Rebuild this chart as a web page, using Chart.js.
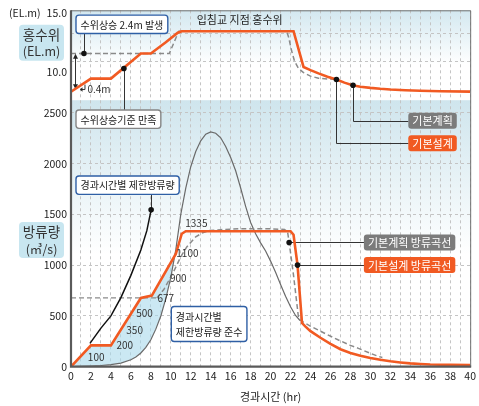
<!DOCTYPE html>
<html><head><meta charset="utf-8">
<script src="https://cdn.jsdelivr.net/npm/chart.js@4.4.1/dist/chart.umd.min.js"></script>
<style>html,body{margin:0;padding:0;background:#fff}#wrap{width:479px;height:406px}</style>
</head><body><div id="wrap"><canvas id="c" width="479" height="406"></canvas></div>
<script>
// ---------- data ----------
const xTickLabels = [0,2,4,6,8,10,12,14,16,18,20,22,24,26,28,30,32,34,36,38,40];
const levelLabelTicks = [10, 15];
const levelGrid = [10, 10.84, 13.23, 15];
const flowTicks = [0, 500, 1000, 1500, 2000, 2500];

// 기본설계 홍수위 (EL.m)
const designLevel = [[0,8.33],[2,9.44],[4,9.44],[7,11.55],[8,11.55],[9.5,12.5],[10.7,13.3],[11.1,13.43],[22.3,13.43],[23.3,10.42],[24,10.15],[24.8,9.88],[25.7,9.6],[26.6,9.36],[27.4,9.1],[28.2,8.88],[29,8.76],[30,8.66],[31,8.58],[32,8.52],[33.5,8.46],[35,8.42],[37,8.38],[40,8.34]];
// 기본계획 홍수위
const planLevel = [[0,11.55],[9.85,11.55],[10.8,13.43],[21.6,13.43],[21.8,12.95],[22.1,11.8],[22.4,10.9],[22.8,10.29],[23.3,9.95],[24,9.65],[24.8,9.47],[26.6,9.36]];
// 유입량 (gray solid)
const inflow = [[0,0],[1,3],[2,7],[3,12],[4,20],[5,35],[6,68],[6.5,95],[7,135],[7.5,190],[8,265],[8.5,370],[9,500],[9.5,670],[10,880],[10.5,1150],[11,1500],[11.5,1760],[12,1970],[12.5,2120],[13,2225],[13.5,2290],[14,2313],[14.5,2300],[15,2255],[15.5,2170],[16,2060],[16.5,1930],[17,1760],[17.5,1580],[18,1420],[18.5,1310],[19,1220],[19.5,1140],[20,1040],[20.5,930],[21,810],[21.5,695],[22,590],[22.5,505],[22.95,455]];
// 기본설계 방류곡선
const designFlow = [[0,0],[2,210],[4,210],[7,677],[8.1,700],[10.5,1110],[11.1,1310],[11.5,1335],[22,1335],[22.3,1300],[22.7,1001],[23.15,430],[23.5,395],[24,350],[25,285],[26,225],[27,172],[28,136],[29,108],[30,86],[31,68],[32,53],[33,42],[34,33],[35,27],[36,22],[38,18],[40,16]];
// 기본계획 방류곡선
const planFlowRef = [[0,677],[8.6,677]];
const planFlow = [[8.6,677],[9.3,760],[10.2,920],[11,1083],[11.6,1180],[12.5,1280],[13.2,1320],[13.8,1340],[15,1350],[17,1360],[19.5,1360],[21.4,1352],[21.7,1330],[21.86,1224],[22.3,900],[22.8,480],[23,455],[24.1,394],[25.5,325],[26.8,263],[28,210],[28.8,181],[29.8,140],[30.7,105],[31.2,90]];
// 경과시간별 제한방류량
const limitFlow = [[1.9,230],[3,380],[4,500],[5,680],[6,900],[7,1150],[7.6,1340],[8.03,1545]];
const shadeUntil = 11.5;
// markers
const levelMarkers = [[1.3,11.55],[5.3,10.29],[26.6,9.36],[28.26,8.88]];
const flowMarkers = [[8.03,1545],[21.86,1224],[22.7,1001]];
// value labels on the discharge curves
const flowLabels = [['1335',11.45,1414],['1100',10.55,1119],['900',9.92,873],['677',8.66,679],['500',6.54,529],['350',5.54,361],['200',4.55,207],['100',1.69,98]];

// ---------- helpers ----------
const FONT = '"Noto Sans CJK KR", "Noto Sans", sans-serif';
const xy = a => a.map(([x,y]) => ({x, y}));
const ORANGE = '#f15a22', GRAYF = '#7b7b7b', BLUE = '#2f5fa5';

const callouts = [
  {text:['수위상승 2.4m 발생'], t:0.5, v:14.01, axis:'yTop', kind:'blue', leader:[[1.3,11.55,'yTop'],[1.3,14.01,'yTop']]},
  {text:['수위상승기준 만족'], t:0.5, v:2438, axis:'y', kind:'gray', leader:[[5.3,10.29,'yTop'],[5.3,2438,'y']]},
  {text:['경과시간별 제한방류량'], t:0.5, v:1788, axis:'y', kind:'blue', leader:[[8.03,1545,'y'],[8.03,1788,'y']]},
  {text:['경과시간별','제한방류량 준수'], t:10.05, v:420, axis:'y', kind:'blue'},
  {text:['기본계획'], t:33.8, v:2423, axis:'y', kind:'grayFill', leader:[[28.26,8.88,'yTop'],[28.26,2423,'y'],[33.8,2423,'y']]},
  {text:['기본설계'], t:33.8, v:2202, axis:'y', kind:'orangeFill', leader:[[26.6,9.36,'yTop'],[26.6,2202,'y'],[33.8,2202,'y']]},
  {text:['기본계획 방류곡선'], t:29.35, v:1224, axis:'y', kind:'grayFill', leader:[[21.86,1224,'y'],[29.35,1224,'y']]},
  {text:['기본설계 방류곡선'], t:29.35, v:1001, axis:'y', kind:'orangeFill', leader:[[22.7,1001,'y'],[29.35,1001,'y']]}
];

function rr(ctx, x, y, w, h, r){
  ctx.beginPath();
  ctx.moveTo(x+r, y); ctx.lineTo(x+w-r, y); ctx.quadraticCurveTo(x+w, y, x+w, y+r);
  ctx.lineTo(x+w, y+h-r); ctx.quadraticCurveTo(x+w, y+h, x+w-r, y+h);
  ctx.lineTo(x+r, y+h); ctx.quadraticCurveTo(x, y+h, x, y+h-r);
  ctx.lineTo(x, y+r); ctx.quadraticCurveTo(x, y, x+r, y); ctx.closePath();
}

const deco = {
  id: 'deco',
  beforeDraw(chart){
    const {ctx, chartArea:a, scales} = chart;
    const yt = scales.yTop, yb = scales.y;
    ctx.save();
    let g = ctx.createLinearGradient(0, yt.top, 0, yt.bottom);
    g.addColorStop(0, '#d3e8f0'); g.addColorStop(0.6, '#ffffff'); g.addColorStop(1, '#ffffff');
    ctx.fillStyle = g; ctx.fillRect(a.left, yt.top, a.right - a.left, yt.bottom - yt.top);
    g = ctx.createLinearGradient(0, yb.top, 0, yb.bottom);
    g.addColorStop(0, '#cfe5ed'); g.addColorStop(0.58, '#ffffff'); g.addColorStop(1, '#ffffff');
    ctx.fillStyle = g; ctx.fillRect(a.left, yb.top, a.right - a.left, yb.bottom - yb.top);
    ctx.restore();
  },
  beforeDatasetsDraw(chart){
    const {ctx, scales} = chart;
    const px = t => scales.x.getPixelForValue(t);
    const py = (v, ax) => scales[ax].getPixelForValue(v);
    ctx.save();
    ctx.strokeStyle = '#333'; ctx.lineWidth = 1;
    callouts.forEach(c => {
      if (!c.leader) return;
      ctx.beginPath();
      c.leader.forEach(([t, v, ax], i) => {
        const X = Math.round(px(t)) + 0.5, Y = Math.round(py(v, ax)) + 0.5;
        i ? ctx.lineTo(X, Y) : ctx.moveTo(X, Y);
      });
      ctx.stroke();
    });
    // 2.4m double arrow
    const ax = Math.round(px(0.4)) + 0.5, y1 = py(11.45,'yTop'), y2 = py(8.62,'yTop');
    ctx.beginPath(); ctx.moveTo(ax, y1); ctx.lineTo(ax, y2); ctx.stroke();
    ctx.fillStyle = '#222';
    ctx.beginPath(); ctx.moveTo(ax, y1 - 1); ctx.lineTo(ax - 2.5, y1 + 4); ctx.lineTo(ax + 2.5, y1 + 4); ctx.fill();
    ctx.beginPath(); ctx.moveTo(ax, y2 + 1); ctx.lineTo(ax - 2.5, y2 - 4); ctx.lineTo(ax + 2.5, y2 - 4); ctx.fill();
    // small hook for 0.4m
    const hx = px(1.4), hy = py(8.52,'yTop');
    ctx.beginPath(); ctx.moveTo(hx, hy - 5); ctx.lineTo(hx, hy); ctx.lineTo(hx - 3, hy); ctx.stroke();
    ctx.beginPath(); ctx.moveTo(hx - 5, hy); ctx.lineTo(hx - 2.5, hy - 2.2); ctx.lineTo(hx - 2.5, hy + 2.2); ctx.fill();
    ctx.restore();
  },
  afterDatasetsDraw(chart){
    const {ctx, chartArea:a, scales} = chart;
    const px = t => scales.x.getPixelForValue(t);
    const py = (v, ax) => scales[ax].getPixelForValue(v);
    ctx.save();
    // frame
    ctx.strokeStyle = '#707070'; ctx.lineWidth = 1;
    ctx.beginPath(); ctx.moveTo(a.left, a.top + 0.5); ctx.lineTo(a.right + 0.5, a.top + 0.5); ctx.lineTo(a.right + 0.5, a.bottom); ctx.stroke();
    ctx.strokeStyle = '#5a5a5a'; ctx.lineWidth = 2.2;
    ctx.beginPath(); ctx.moveTo(a.left, a.top); ctx.lineTo(a.left, a.bottom); ctx.lineTo(a.right + 1, a.bottom); ctx.stroke();

    // value labels
    ctx.font = '10px ' + FONT; ctx.fillStyle = '#333'; ctx.textBaseline = 'middle'; ctx.textAlign = 'left';
    flowLabels.forEach(([s, t, v]) => ctx.fillText(s, px(t), py(v, 'y')));
    ctx.fillText('0.4m', px(1.65), py(8.54, 'yTop'));
    ctx.font = '11px ' + FONT; ctx.fillStyle = '#222';
    ctx.fillText('입침교 지점 홍수위', px(12.6), py(14.35, 'yTop'));

    // callout boxes
    callouts.forEach(c => {
      const filled = c.kind.endsWith('Fill');
      const fs = filled ? 11 : 10;
      ctx.font = fs + 'px ' + FONT;
      const padX = filled ? 4 : 4.5;
      const tw = Math.max(...c.text.map(s => ctx.measureText(s).width));
      const w = tw + 2 * padX;
      const h = c.text.length > 1 ? 35 : (filled ? 16 : 18.3);
      const x = px(c.t), yc = py(c.v, c.axis), top = yc - h / 2;
      rr(ctx, x, top, w, h, 3);
      if (filled) {
        ctx.fillStyle = c.kind === 'grayFill' ? GRAYF : ORANGE; ctx.fill();
        ctx.fillStyle = '#fff';
      } else {
        ctx.fillStyle = '#fff'; ctx.fill();
        ctx.lineWidth = 1.4; ctx.strokeStyle = c.kind === 'blue' ? BLUE : '#858585'; ctx.stroke();
        ctx.fillStyle = '#222';
      }
      ctx.textBaseline = 'middle'; ctx.textAlign = 'left';
      const lh = 15.5, n = c.text.length;
      c.text.forEach((s, i) => ctx.fillText(s, x + padX, yc + (i - (n - 1) / 2) * lh + 0.5));
    });

    // axis title boxes
    const yt = scales.yTop, yb = scales.y;
    const titleBox = (l1, l2, yc) => {
      rr(ctx, 19, yc - 18, 45, 36, 4);
      ctx.fillStyle = '#c8e6f0'; ctx.fill();
      ctx.fillStyle = '#333'; ctx.textAlign = 'center'; ctx.textBaseline = 'middle';
      ctx.font = '13.5px ' + FONT; ctx.fillText(l1, 41.5, yc - 8);
      ctx.font = '12.5px ' + FONT; ctx.fillText(l2, 41.5, yc + 9);
    };
    titleBox('홍수위', '(EL.m)', yt.getPixelForValue(12.46));
    titleBox('방류량', '(㎥/s)', yb.getPixelForValue(1247));
    ctx.font = '10.5px ' + FONT; ctx.fillStyle = '#222'; ctx.textAlign = 'left'; ctx.textBaseline = 'middle';
    ctx.fillText('(EL.m)', 9, yt.getPixelForValue(15));
    ctx.restore();
  }
};

const line = (data, axis, color, width, dash, order, extra) => Object.assign({
  data: xy(data), yAxisID: axis, borderColor: color, borderWidth: width, borderDash: dash || [],
  pointRadius: 0, tension: 0, fill: false, order
}, extra || {});

const chart = new Chart(document.getElementById('c'), {
  type: 'line',
  data: { datasets: [
    line(inflow.filter(p => p[0] <= shadeUntil), 'y', 'rgba(0,0,0,0)', 0, null, 9),
    line(designFlow.filter(p => p[0] <= shadeUntil), 'y', 'rgba(0,0,0,0)', 0, null, 8,
         {fill: {target: 0, above: 'rgba(168,216,235,0.6)', below: 'rgba(0,0,0,0)'}}),
    line(inflow, 'y', '#6a6a6a', 1.2, null, 6),
    line(planFlowRef, 'y', '#8a8a8a', 1.3, [5,3], 5),
    line(planFlow, 'y', '#8a8a8a', 1.5, [5,3], 5),
    line(limitFlow, 'y', '#111', 1.5, null, 4),
    line(designFlow, 'y', ORANGE, 2.6, null, 2),
    line(planLevel, 'yTop', '#8a8a8a', 1.5, [5,3], 3),
    line(designLevel, 'yTop', ORANGE, 2.6, null, 1),
    line(levelMarkers, 'yTop', 'rgba(0,0,0,0)', 0, null, 0, {showLine:false, pointRadius:2.8, pointBackgroundColor:'#111', pointBorderWidth:0}),
    line(flowMarkers, 'y', 'rgba(0,0,0,0)', 0, null, 0, {showLine:false, pointRadius:2.8, pointBackgroundColor:'#111', pointBorderWidth:0})
  ]},
  options: {
    responsive: false, animation: false, devicePixelRatio: 1,
    layout: { padding: {top: 10, right: 6, left: 0, bottom: 0} },
    plugins: { legend: {display: false}, tooltip: {enabled: false} },
    font: { family: FONT },
    scales: {
      x: {
        type: 'linear', min: 0, max: 40, position: 'bottom',
        afterFit: s => { s.height = 39.3; },
        ticks: { stepSize: 1, autoSkip: false, maxRotation: 0, padding: 3, color: '#222',
                 font: {size: 10.5, family: FONT},
                 callback: v => xTickLabels.includes(v) ? String(v) : '' },
        grid: { color: '#c4c4c4', lineWidth: 1, drawTicks: false },
        border: { display: false, dash: [3,3] },
        title: { display: true, text: '경과시간 (hr)', color: '#222', font: {size: 11, family: FONT}, padding: {top: 0, bottom: 3} }
      },
      yTop: {
        type: 'linear', position: 'left', stack: 'panels', stackWeight: 90, weight: 2,
        min: 7.62, max: 15.19,
        afterBuildTicks: s => { s.ticks = levelGrid.map(v => ({value: v})); },
        afterFit: s => { s.width = 71; },
        ticks: { padding: 4, color: '#222', font: {size: 10.5, family: FONT},
                 callback: v => levelLabelTicks.includes(v) ? v.toFixed(1) : '' },
        grid: { drawTicks: false, lineWidth: 1,
                color: c => (c.tick && levelLabelTicks.includes(c.tick.value)) ? 'rgba(0,0,0,0)' : '#c4c4c4' },
        border: { display: false, dash: [3,3] }
      },
      y: {
        type: 'linear', position: 'left', stack: 'panels', stackWeight: 266.7, weight: 1,
        min: 0, max: 2625,
        afterBuildTicks: s => { s.ticks = flowTicks.map(v => ({value: v})); },
        afterFit: s => { s.width = 71; },
        ticks: { padding: 4, color: '#222', font: {size: 10.5, family: FONT}, callback: v => String(v) },
        grid: { drawTicks: false, lineWidth: 1,
                color: c => (c.tick && c.tick.value === 0) ? 'rgba(0,0,0,0)' : '#c4c4c4' },
        border: { display: false, dash: [3,3] }
      }
    }
  },
  plugins: [deco]
});
</script>
</body></html>
